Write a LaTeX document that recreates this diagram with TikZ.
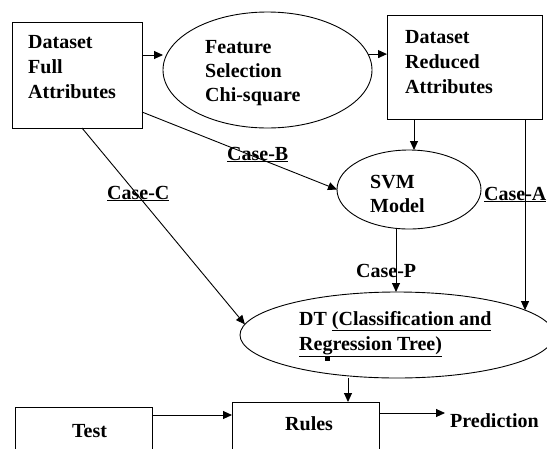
\documentclass[tikz,border=0pt]{standalone}
\usepackage{fontspec}
\setmainfont{Liberation Serif}
\usetikzlibrary{arrows.meta,shapes.geometric,calc}
\begin{document}
\begin{tikzpicture}[x=1pt,y=-1pt,
  boxs/.style={draw,line width=1pt,rectangle,inner sep=0pt,outer sep=0pt},
  ells/.style={draw,line width=0.9pt,ellipse,inner sep=0pt,outer sep=0pt},
  txt/.style={anchor=base west,inner sep=0pt,align=left,font=\fontsize{20}{25}\selectfont\bfseries},
  txtb/.style={txt,font=\fontsize{20}{24}\selectfont\bfseries},
  arr/.style={line width=0.9pt,-{Triangle[length=9pt,width=8pt]}},
  ln/.style={line width=0.9pt}]
\useasboundingbox (0,0) rectangle (547,448);
\clip (0,0) rectangle (547,448);
\fill[white] (0,0) rectangle (547,448);
% shapes
\node[boxs,minimum width=130pt,minimum height=106pt] (box1) at (77,75) {};
\node[ells,minimum width=209pt,minimum height=116pt] (fs) at (267.5,70) {};
\node[boxs,minimum width=155pt,minimum height=104pt] (box3) at (464.5,67) {};
\node[ells,minimum width=144pt,minimum height=79pt] (svm) at (409,189.5) {};
\node[ells,minimum width=314pt,minimum height=86pt] (dt) at (397,335) {};
\node[boxs,minimum width=147pt,minimum height=70pt] (rules) at (305.5,437) {};
\node[boxs,minimum width=137pt,minimum height=70pt] (test) at (83.5,442) {};
% texts (base anchor = baseline of the last line)
\node[txt] (t1) at (28,98) {Dataset\\Full\\Attributes};
\node[txtb] (t2) at (205,101) {Feature\\Selection\\Chi-square};
\node[txt] (t3) at (405,93) {Dataset\\Reduced\\Attributes};
\node[txtb] (t4) at (370,212) {SVM\\Model};
\node[txt] (t5) at (299,350) {DT \underline{(Classification and}\\\underline{Regression Tree)}};
\node[txt] (t6) at (72,437) {Test};
\node[txt] (t7) at (285,430) {Rules};
\node[txt] (pred) at (450,427) {Prediction};
\node[txt] (caseB) at (227,160) {\underline{Case-B}};
\node[txt] (caseC) at (107,199) {\underline{Case-C}};
\node[txt] (caseA) at (484,200) {\underline{Case-A}};
\node[txt] (caseP) at (356,277) {Case-P};
\fill (324.5,356) rectangle (329.5,361);
% connectors
\draw[arr] ([yshift=20pt]box1.east) -- ([yshift=20pt]box1.east -| fs.west);
\draw[arr] (fs.9) -- (fs.9 -| box3.west);
\draw[arr] ([xshift=-50.5pt]box3.south) -- ([xshift=-50.5pt]box3.south |- svm.north);
\draw[arr] (box3.south -| dt.11.5) -- (dt.11.5);
\draw[arr] ([xshift=-13pt]svm.south) -- ([xshift=-13pt]svm.south |- dt.north);
\draw[arr] ([yshift=-37pt]box1.east) -- (svm.west);
\draw[arr] ([xshift=5pt]box1.south) -- (dt.176);
\draw[arr] ([xshift=-49pt]dt.south) -- ([xshift=-49pt]dt.south |- rules.north);
\draw[arr] ([yshift=-8pt]test.north east) -- ([yshift=-8pt]test.north east -| rules.west);
\draw[arr] ([yshift=-11pt]rules.north east) -- ($(rules.north east -| pred.west)+(-5,11)$);
\end{tikzpicture}
\end{document}
